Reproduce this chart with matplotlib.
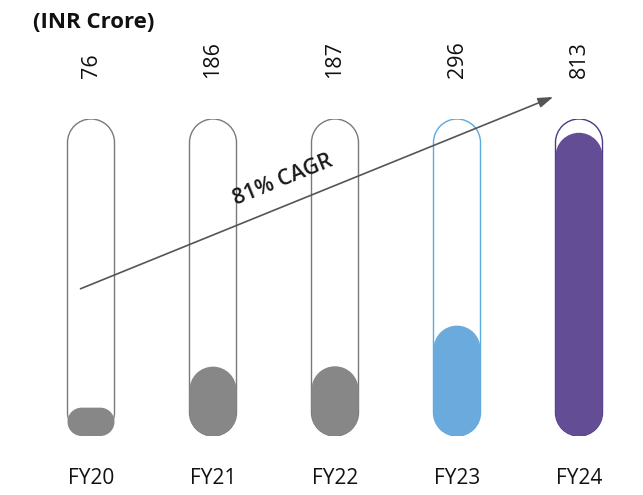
import numpy as np
import matplotlib.pyplot as plt
from matplotlib.path import Path
from matplotlib.patches import PathPatch

years = ["FY20", "FY21", "FY22", "FY23", "FY24"]
values = [76, 186, 187, 296, 813]
fill_colors = ["#878787", "#878787", "#878787", "#6aaadd", "#634e96"]
edge_colors = ["#7a7a7a", "#7a7a7a", "#7a7a7a", "#5aaae0", "#4a3a88"]
tube_max = 850
cagr_label = "81% CAGR"

plt.rcParams['font.family'] = ['Open Sans', 'DejaVu Sans']

fig = plt.figure(figsize=(6.43, 4.95), dpi=100)
ax = fig.add_axes([30 / 643, 59 / 495, 610 / 643, 317 / 495])
ax.set_xlim(-0.5, 4.5)
ax.set_ylim(0, tube_max)
ax.axis("off")

# data units per pixel, so the rounded ends come out circular
x_per_px = 5.0 / 610
y_per_px = tube_max / 317.0
w = 47 * x_per_px


def rounded_bar(xc, h, width):
    # radius in pixels: half the width, or half the height if the bar is short
    r_px = min(width / x_per_px / 2, h / y_per_px / 2)
    rx, ry = r_px * x_per_px, r_px * y_per_px
    x0, x1 = xc - width / 2, xc + width / 2
    verts, codes = [], []

    def corner(cx, cy, t1, t2, first=False):
        arc = Path.arc(t1, t2)
        v = arc.vertices * [rx, ry] + [cx, cy]
        c = list(arc.codes)
        if not first:
            c[0] = Path.LINETO
        verts.extend(v)
        codes.extend(c)

    corner(x1 - rx, ry, 270, 360, first=True)
    corner(x1 - rx, h - ry, 0, 90)
    corner(x0 + rx, h - ry, 90, 180)
    corner(x0 + rx, ry, 180, 270)
    verts.append(verts[0])
    codes.append(Path.CLOSEPOLY)
    return Path(np.array(verts), codes)


x = np.arange(len(years))
for i, v in enumerate(values):
    ax.add_patch(PathPatch(rounded_bar(x[i], tube_max, w), fc="white",
                           ec=edge_colors[i], lw=1.0, zorder=1))
    ax.add_patch(PathPatch(rounded_bar(x[i], v, w), fc=fill_colors[i],
                           ec="none", zorder=2))
    ax.text(x[i], 1.13, str(v), rotation=90, ha="center", va="bottom",
            fontsize=15.5, color="#111111",
            transform=ax.get_xaxis_transform())
    ax.text(x[i], -0.135, years[i], ha="center", va="center",
            fontsize=15, color="#111111",
            transform=ax.get_xaxis_transform())

# CAGR arrow
ax.annotate("", xy=(3.81, 912), xytext=(-0.107, 392),
            arrowprops=dict(arrowstyle="-|>,head_length=0.9,head_width=0.3",
                            color="#555555", lw=1.2),
            annotation_clip=False, zorder=3)
ax.text(1.57, 685, cagr_label, rotation=22, ha="center", va="center",
        fontsize=15.5, fontweight="semibold", color="#1a1a1a", zorder=4)

fig.text(33 / 643, 1 - 22 / 495, "(INR Crore)", ha="left", va="center",
         fontsize=16, fontweight="bold", color="#111111")

fig.savefig("out.png", dpi=100)
